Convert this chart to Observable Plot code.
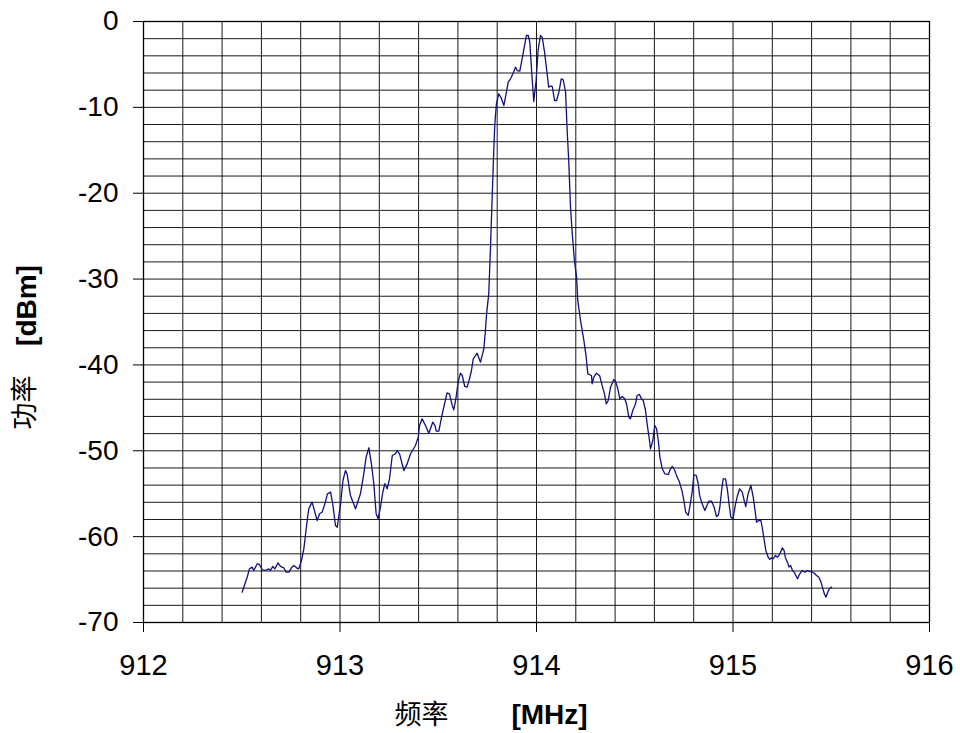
<!DOCTYPE html>
<html>
<head>
<meta charset="utf-8">
<script src="https://cdn.jsdelivr.net/npm/d3@7"></script>
<script src="https://cdn.jsdelivr.net/npm/@observablehq/plot@0.6"></script>
<style>
  html, body { margin: 0; padding: 0; background: #fff; }
</style>
</head>
<body>
<div id="chart"></div>
<script>
const freq = [
  912.502, 912.528, 912.539, 912.553, 912.561, 912.579, 912.59, 912.604, 912.621, 912.638,
  912.646, 912.658, 912.668, 912.685, 912.697, 912.714, 912.726, 912.74, 912.753, 912.765,
  912.779, 912.79, 912.804, 912.816, 912.824, 912.833, 912.841, 912.858, 912.872, 912.884,
  912.896, 912.909, 912.923, 912.936, 912.952, 912.963, 912.977, 912.986,
  913.003, 913.015, 913.028, 913.036, 913.053, 913.079, 913.104, 913.121, 913.133, 913.147,
  913.16, 913.172, 913.184, 913.194, 913.206, 913.218, 913.228, 913.24, 913.252, 913.266,
  913.282, 913.291, 913.303, 913.325, 913.342, 913.359, 913.384, 913.398, 913.405, 913.418,
  913.435, 913.452, 913.472, 913.483, 913.49, 913.503, 913.517, 913.528, 913.545, 913.557,
  913.571, 913.579, 913.591, 913.601, 913.613, 913.622, 913.635, 913.647, 913.659, 913.669,
  913.678, 913.698, 913.715, 913.732, 913.74, 913.746, 913.757, 913.766, 913.775, 913.783,
  913.788, 913.796, 913.808, 913.82, 913.834, 913.847, 913.856, 913.868, 913.881, 913.893,
  913.902, 913.915, 913.927, 913.939, 913.949, 913.958, 913.966, 913.975, 913.986, 913.998,
  914.008, 914.02, 914.029, 914.041, 914.054, 914.062, 914.071, 914.08, 914.092, 914.102,
  914.114, 914.126, 914.136, 914.148, 914.156, 914.164, 914.173, 914.182, 914.193, 914.204,
  914.21, 914.224, 914.241, 914.253, 914.261, 914.28, 914.283, 914.292, 914.305, 914.321,
  914.334, 914.346, 914.355, 914.365, 914.377, 914.393, 914.402, 914.414, 914.424, 914.436,
  914.449, 914.458, 914.47, 914.478, 914.49, 914.504, 914.512, 914.524, 914.534, 914.543,
  914.555, 914.563, 914.575, 914.58, 914.592, 914.602, 914.611, 914.62, 914.628, 914.64,
  914.653, 914.671, 914.682, 914.691, 914.702, 914.716, 914.728, 914.742, 914.75, 914.759,
  914.772, 914.78, 914.792, 914.801, 914.813, 914.823, 914.83, 914.843, 914.857, 914.877,
  914.891, 914.904, 914.916, 914.925, 914.933, 914.942, 914.95, 914.962, 914.972, 914.981,
  914.989, 915.0, 915.013, 915.023, 915.034, 915.047, 915.057, 915.065, 915.077, 915.091,
  915.103, 915.111, 915.12, 915.131, 915.142, 915.15, 915.159, 915.167, 915.179, 915.187,
  915.196, 915.204, 915.216, 915.226, 915.234, 915.242, 915.251, 915.26, 915.266, 915.277,
  915.285, 915.293, 915.303, 915.314, 915.328, 915.34, 915.352, 915.366, 915.379, 915.391,
  915.405, 915.417, 915.425, 915.437, 915.448, 915.455, 915.465, 915.473, 915.482, 915.49,
  915.502
];
const power = [
  -66.47, -64.7, -63.75, -63.55, -63.94, -63.16, -63.24, -63.86, -63.94, -63.75,
  -63.94, -63.47, -63.75, -63.05, -63.47, -63.63, -64.14, -64.14, -63.63, -63.36,
  -63.63, -63.75, -62.78, -61.42, -59.87, -58.12, -56.76, -55.98, -57.15, -58.12,
  -57.34, -57.15, -56.18, -55.01, -54.82, -56.18, -58.7, -58.9,
  -56.18, -53.46, -52.3, -52.7, -55.2, -56.76, -55.01, -52.68, -50.74, -49.65,
  -51.52, -53.84, -57.34, -57.92, -56.57, -54.82, -53.84, -54.43, -53.26, -50.55,
  -50.35, -49.97, -50.35, -52.3, -51.52, -50.35, -49.38, -48.41, -47.05, -46.28,
  -47.05, -47.95, -46.67, -47.05, -47.72, -47.72, -46.09, -44.92, -43.25, -43.37,
  -44.72, -45.23, -43.76, -42.01, -40.96, -41.23, -42.51, -42.59, -41.62, -40.65,
  -39.29, -38.63, -39.68, -38.12, -35.99, -34.05, -31.72, -26.28, -20.07, -14.64,
  -11.92, -9.59, -8.42, -8.89, -9.78, -8.23, -7.07, -6.68, -6.02, -5.32,
  -5.71, -5.79, -4.35, -2.8, -1.63, -1.63, -2.41, -5.71, -9.32, -6.87,
  -3.38, -1.63, -1.82, -3.57, -6.09, -7.65, -7.53, -7.57, -9.2, -9.2,
  -8.23, -6.68, -6.8, -8.23, -12.69, -16.19, -21.63, -24.73, -27.84, -29.78,
  -32.49, -34.82, -37.15, -39.1, -41.04, -41.23, -42.2, -41.43, -40.96, -41.23,
  -42.39, -43.37, -44.53, -44.14, -42.59, -41.7, -41.89, -42.78, -43.95, -43.68,
  -43.95, -44.53, -46.09, -46.28, -45.31, -44.53, -43.56, -43.44, -43.95, -44.14,
  -45.31, -46.86, -48.8, -49.77, -48.8, -47.05, -47.44, -48.8, -50.74, -52.1,
  -52.68, -52.76, -52.1, -51.83, -52.21, -53.07, -53.66, -54.82, -55.79, -57.15,
  -57.53, -56.57, -54.82, -52.76, -52.88, -53.84, -55.2, -56.18, -56.95, -55.87,
  -55.87, -56.57, -57.65, -57.53, -56.57, -54.62, -53.26, -53.26, -54.62, -56.37,
  -57.73, -57.92, -56.18, -55.2, -54.43, -54.82, -55.79, -56.49, -55.01, -54.04,
  -55.4, -56.76, -58.31, -58.12, -58.12, -59.09, -60.45, -61.61, -62.39, -62.66,
  -62.47, -62.59, -62.19, -62.39, -62.19, -61.81, -61.3, -61.61, -62.39, -62.97,
  -63.55, -63.36, -63.94, -64.26, -64.91, -64.33, -63.94, -64.14, -63.94, -64.06,
  -64.14, -64.33, -64.52, -64.72, -65.3, -65.88, -66.66, -67.05, -66.47, -66.07,
  -65.88
];

const xTicks = [912, 913, 914, 915, 916];
const yTicks = [0, -10, -20, -30, -40, -50, -60, -70];
const xGrid = [912.2, 912.4, 912.6, 912.8, 913, 913.2, 913.4, 913.6, 913.8, 914, 914.2, 914.4, 914.6, 914.8, 915, 915.2, 915.4, 915.6, 915.8];
const yGrid = [-2, -4, -6, -8, -10, -12, -14, -16, -18, -20, -22, -24, -26, -28, -30, -32, -34, -36, -38, -40, -42, -44, -46, -48, -50, -52, -54, -56, -58, -60, -62, -64, -66, -68];
const xTitleParts = ["频率", "[MHz]"];
const yTitleParts = ["功率", "[dBm]"];

const data = freq.map((f, i) => ({f, p: power[i]}));

const FONT = "'Liberation Sans', Arial, 'Noto Sans CJK SC', sans-serif";
const CJK = "'Noto Sans CJK SC', 'Liberation Sans', sans-serif";

const chart = Plot.plot({
  width: 960,
  height: 733,
  marginLeft: 143,
  marginRight: 31,
  marginTop: 21,
  marginBottom: 111,
  style: {fontFamily: FONT, fontSize: "28px", color: "#000", background: "#fff", overflow: "visible"},
  x: {domain: [912, 916], label: null},
  y: {domain: [-70, 0], label: null},
  marks: [
    Plot.ruleX(xGrid, {stroke: "#000", strokeOpacity: 0.9, strokeWidth: 1}),
    Plot.ruleY(yGrid, {stroke: "#000", strokeOpacity: 0.9, strokeWidth: 1}),
    Plot.frame({stroke: "#000", strokeWidth: 1.3}),
    Plot.axisX(xTicks, {tickSize: 10, tickPadding: 22, tickFormat: d => String(d), fontSize: 29, stroke: "#000", strokeOpacity: 1}),
    Plot.axisY(yTicks, {tickSize: 10, tickPadding: 15, tickFormat: d => String(d), fontSize: 28, stroke: "#000", strokeOpacity: 1}),
    Plot.line(data, {x: "f", y: "p", stroke: "#10107f", strokeWidth: 1.3}),
    Plot.text([xTitleParts[0]], {frameAnchor: "bottom", textAnchor: "middle", lineAnchor: "middle", dx: 421 - 536, dy: 93, fontSize: 27, fontFamily: CJK, fill: "#000"}),
    Plot.text([xTitleParts[1]], {frameAnchor: "bottom", textAnchor: "middle", lineAnchor: "middle", dx: 549 - 536, dy: 93, fontSize: 28, fontWeight: "bold", fill: "#000"}),
    Plot.text([yTitleParts[0]], {frameAnchor: "left", textAnchor: "middle", lineAnchor: "middle", dx: 25 - 143, dy: 402 - 321.5, rotate: -90, fontSize: 27, fontFamily: CJK, fill: "#000"}),
    Plot.text([yTitleParts[1]], {frameAnchor: "left", textAnchor: "middle", lineAnchor: "middle", dx: 27 - 143, dy: 305 - 321.5, rotate: -90, fontSize: 28, fontWeight: "bold", fill: "#000"})
  ]
});
document.getElementById("chart").appendChild(chart);
</script>
</body>
</html>
